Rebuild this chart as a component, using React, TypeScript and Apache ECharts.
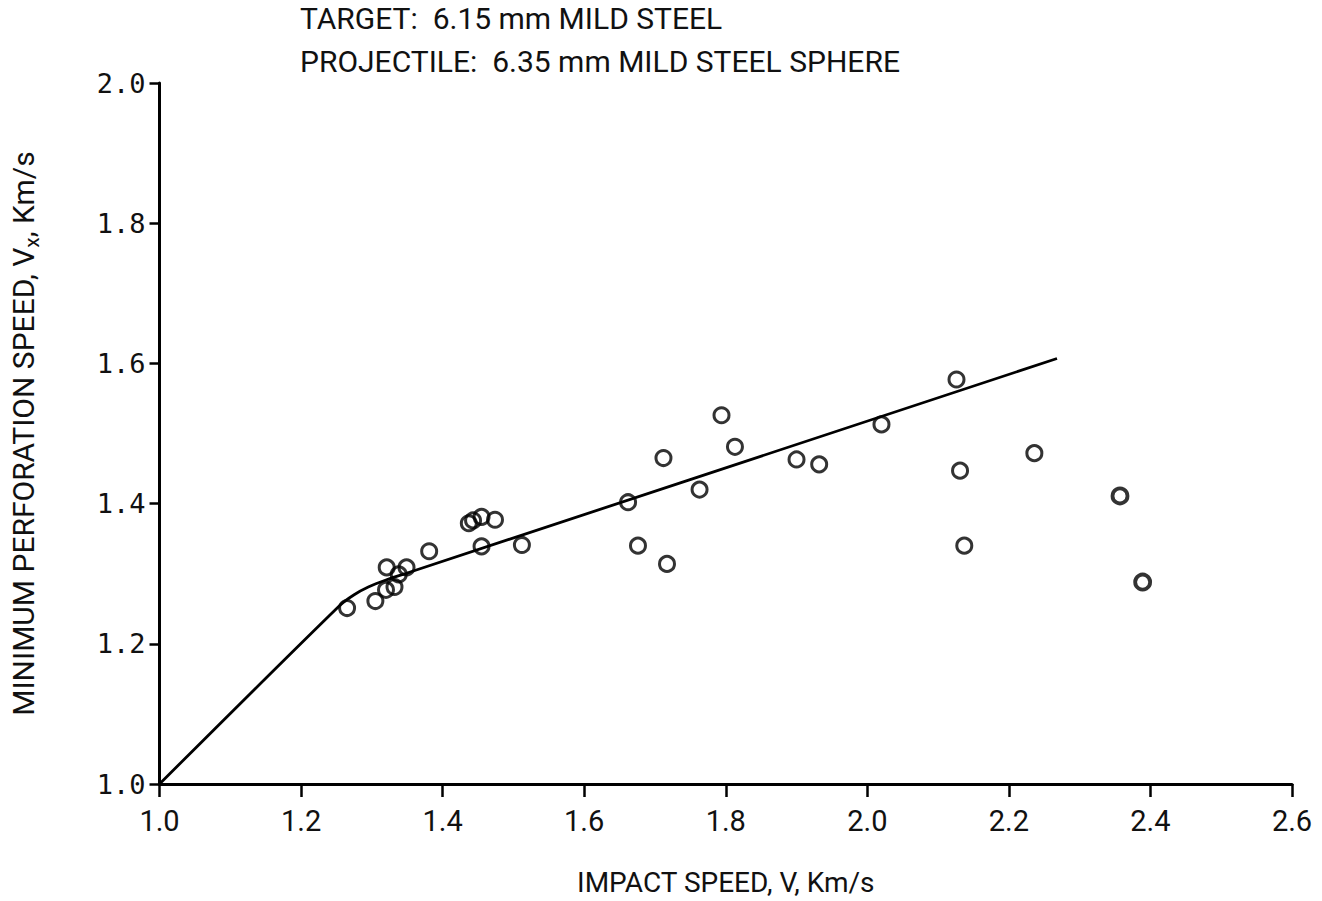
import React, { useEffect, useRef } from "react";
import * as echarts from "echarts";

// Measured data points (impact speed V, minimum perforation speed Vx), km/s
const impactSpeed = [
  1.265, 1.305, 1.321, 1.32, 1.332, 1.338, 1.349, 1.381, 1.437, 1.443, 1.455, 1.474, 1.455, 1.512,
  1.662, 1.676, 1.712, 1.717, 1.763, 1.794, 1.813, 1.9, 1.932, 2.02, 2.126, 2.131, 2.137, 2.236,
];
const minPerfSpeed = [
  1.251, 1.261, 1.309, 1.277, 1.281, 1.299, 1.309, 1.332, 1.372, 1.376, 1.381, 1.377, 1.339, 1.341,
  1.402, 1.34, 1.465, 1.314, 1.42, 1.526, 1.481, 1.463, 1.456, 1.513, 1.577, 1.447, 1.34, 1.472,
];
// Bolder points at the right end
const boldImpactSpeed = [2.357, 2.389];
const boldMinPerfSpeed = [1.411, 1.288];

// Fitted curve
const fitV = [1.0, 1.255, 1.275, 1.295, 1.32, 1.35, 2.268];
const fitVx = [1.0, 1.255, 1.27, 1.281, 1.291, 1.301, 1.607];

const xTicks = ["1.0", "1.2", "1.4", "1.6", "1.8", "2.0", "2.2", "2.4", "2.6"];

const titleLines = ["TARGET:  6.15 mm MILD STEEL", "PROJECTILE:  6.35 mm MILD STEEL SPHERE"];

const NARROW = "Roboto, 'Liberation Sans', sans-serif";
const MONO = "'DejaVu Sans Mono', 'Liberation Mono', monospace";

export default function App() {
  const ref = useRef<HTMLDivElement>(null);
  useEffect(() => {
    if (!ref.current) return;
    const chart = echarts.init(ref.current, null, { renderer: "svg" });
    const zip = (a: number[], b: number[]) => a.map((v, i) => [v, b[i]]);
    chart.setOption({
      animation: false,
      backgroundColor: "#ffffff",
      grid: { left: 157, right: 30, top: 83, bottom: 114, containLabel: false },
      xAxis: {
        type: "value",
        min: 1.0,
        max: 2.6,
        interval: 0.2,
        name: "IMPACT SPEED, V, Km/s",
        nameLocation: "middle",
        nameGap: 84,
        nameTextStyle: { fontFamily: NARROW, fontSize: 28, color: "#111" },
        axisLine: { lineStyle: { color: "#000", width: 3 } },
        axisTick: { show: true, inside: false, length: 13, lineStyle: { color: "#000", width: 2.5 } },
        axisLabel: {
          margin: 22,
          fontFamily: NARROW,
          fontSize: 29,
          color: "#111",
          formatter: (v: number) => xTicks[Math.round((v - 1.0) / 0.2)] ?? v.toFixed(1),
        },
        splitLine: { show: false },
      },
      yAxis: {
        type: "value",
        min: 1.0,
        max: 2.0,
        interval: 0.2,
        name: "MINIMUM PERFORATION SPEED, V{sub|x}, Km/s",
        nameLocation: "middle",
        nameGap: 117,
        nameRotate: 90,
        nameTextStyle: {
          fontFamily: NARROW,
          fontSize: 30,
          color: "#111",
          rich: {
            sub: { fontFamily: NARROW, fontSize: 21, color: "#111", padding: [18, 0, 0, 0] },
          },
        },
        axisLine: { lineStyle: { color: "#000", width: 3 } },
        axisTick: { show: true, inside: false, length: 10, lineStyle: { color: "#000", width: 2.5 } },
        axisLabel: {
          margin: 14,
          fontFamily: MONO,
          fontSize: 27,
          color: "#111",
          formatter: (v: number) => v.toFixed(1),
        },
        splitLine: { show: false },
      },
      graphic: titleLines.map((t, i) => ({
        type: "text",
        left: 300,
        top: 3 + i * 43,
        style: { text: t, fontFamily: NARROW, fontSize: 30, fill: "#111" },
      })),
      series: [
        {
          type: "line",
          data: zip(fitV, fitVx),
          showSymbol: false,
          smooth: 0.3,
          lineStyle: { color: "#000", width: 2.8 },
          z: 2,
        },
        {
          type: "scatter",
          data: zip(impactSpeed, minPerfSpeed),
          symbol: "circle",
          symbolSize: 15,
          itemStyle: { color: "rgba(255,255,255,0)", borderColor: "#000", borderWidth: 3 },
          z: 3,
        },
        {
          type: "scatter",
          data: zip(boldImpactSpeed, boldMinPerfSpeed),
          symbol: "circle",
          symbolSize: 15,
          itemStyle: { color: "rgba(255,255,255,0)", borderColor: "#000", borderWidth: 3.8 },
          z: 3,
        },
      ],
    });
    return () => chart.dispose();
  }, []);
  return (
    <div
      ref={ref}
      style={{ position: "absolute", left: 0, top: 0, width: 1322, height: 901 }}
    />
  );
}
